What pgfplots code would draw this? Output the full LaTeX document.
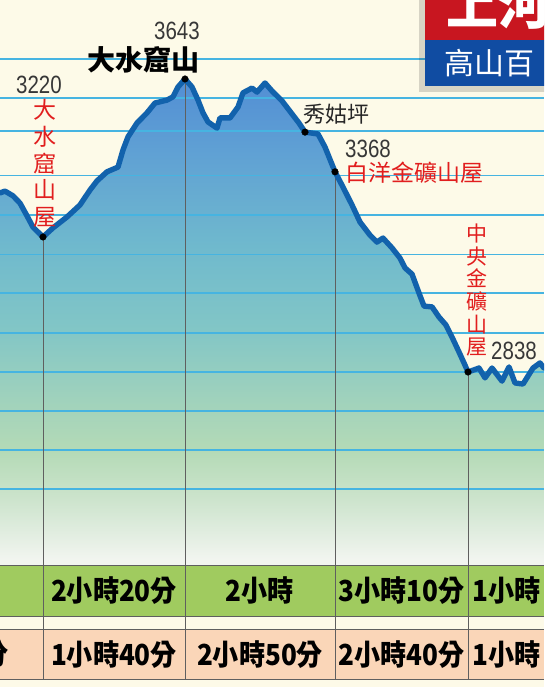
\documentclass[border=0pt]{standalone}
\usepackage{pgfplots}
\pgfplotsset{compat=1.18}
\usepackage{pgfplotstable}
\usepackage{fontspec}
\setmainfont{Liberation Sans}
\newfontfamily\cjk{Noto Sans CJK TC}
\newfontfamily\cjkc[FakeStretch=0.9]{Noto Sans CJK TC}
\newfontfamily\numf[FakeStretch=0.82]{Liberation Sans}

\definecolor{cream}{RGB}{253,250,232}
\definecolor{curveblue}{RGB}{18,98,172}
\definecolor{gridblue}{RGB}{70,180,225}
\definecolor{vgray}{RGB}{95,95,95}
\definecolor{redlab}{RGB}{225,30,30}
\definecolor{numgray}{RGB}{55,55,55}
\definecolor{rowgreen}{RGB}{160,203,95}
\definecolor{roworange}{RGB}{250,214,184}
\definecolor{hdrred}{RGB}{200,22,32}
\definecolor{hdrblue}{RGB}{16,76,162}
\definecolor{s0}{RGB}{242,245,240}
\definecolor{s1}{RGB}{205,228,205}
\definecolor{s2}{RGB}{180,218,182}
\definecolor{s3}{RGB}{160,210,188}
\definecolor{s4}{RGB}{130,198,198}
\definecolor{s5}{RGB}{112,186,205}
\definecolor{s6}{RGB}{95,160,212}
\definecolor{s7}{RGB}{82,142,212}

\pgfdeclareverticalshading{elev}{100bp}{color(0bp)=(s0); color(25bp)=(s0); color(25.5bp)=(s0); color(31.7bp)=(s1); color(36.8bp)=(s2); color(42bp)=(s3); color(49.2bp)=(s4); color(57.4bp)=(s5); color(67.7bp)=(s6); color(75bp)=(s7); color(100bp)=(s7)}

\pgfplotstableread{
x elev
0 3330
5 3335
13 3322
20 3302
27 3267
33 3236
43 3209
53 3234
67 3264
80 3297
90 3338
97 3363
107 3388
118 3401
123 3448
128 3484
137 3522
147 3550
155 3577
167 3585
173 3594
178 3621
185 3643
192 3621
198 3585
203 3550
208 3525
217 3508
220 3536
230 3536
238 3566
243 3605
252 3618
257 3607
265 3632
272 3610
282 3583
292 3547
299 3522
305 3497
318 3492
325 3456
335 3388
343 3346
352 3297
360 3250
370 3214
377 3195
383 3206
392 3179
400 3151
405 3124
412 3107
419 3055
424 3019
432 3017
439 2989
446 2967
452 2934
459 2893
464 2863
468 2838
479 2849
485 2822
492 2849
502 2813
509 2852
515 2808
523 2805
533 2849
540 2863
544 2849
}\profile

\pgfplotstableread{
x elev
0 3330
5 3335
13 3322
20 3302
27 3267
33 3236
43 3209
53 3234
67 3264
80 3297
90 3338
97 3363
107 3388
118 3401
123 3448
128 3484
137 3522
147 3550
155 3577
167 3585
173 3594
178 3621
185 3643
192 3621
198 3585
203 3550
208 3525
217 3508
220 3536
230 3536
238 3566
243 3605
252 3618
257 3607
265 3632
272 3610
282 3583
292 3547
299 3522
305 3497
318 3492
325 3456
335 3388
343 3346
352 3297
360 3250
370 3214
377 3195
383 3206
392 3179
400 3151
405 3124
412 3107
419 3055
424 3019
432 3017
439 2989
446 2967
452 2934
459 2893
464 2863
468 2838
479 2849
485 2822
492 2849
502 2813
509 2852
515 2808
523 2805
533 2849
540 2863
544 2849
544 2308
0 2308
}\profilefill

\begin{document}
\begin{tikzpicture}
\begin{axis}[
  width=544pt, height=687pt, scale only axis,
  xmin=0, xmax=544, ymin=1972.8, ymax=3860,
  axis lines=none, ticks=none, clip=true,
]
% background
\fill[cream] (axis cs:0,1972.8) rectangle (axis cs:544,3860);
% elevation fill
\addplot[draw=none, shade, shading=elev, forget plot] table[x=x, y=elev] {\profilefill};
% horizontal guide lines
\pgfplotsinvokeforeach{3698,3591,3377,3269,3160,3055,2838,2731,2624,2517}{
  \addplot[gridblue, line width=1.3pt, forget plot] coordinates {(0,#1) (544,#1)};
}
\pgfplotsinvokeforeach{3500,2945}{
  \addplot[gridblue, line width=2.1pt, forget plot] coordinates {(0,#1) (544,#1)};
}
% table rows
\fill[rowgreen] (axis cs:0,2308) rectangle (axis cs:544,2168);
\fill[roworange] (axis cs:0,2132) rectangle (axis cs:544,1995);
\pgfplotsinvokeforeach{2308,2168,2132,1995}{
  \addplot[vgray, line width=0.8pt, forget plot] coordinates {(0,#1) (544,#1)};
}
% vertical waypoint lines
\addplot[vgray, line width=0.9pt, forget plot] coordinates {(43,3209) (43,1995)};
\addplot[vgray, line width=0.9pt, forget plot] coordinates {(185,3643) (185,1995)};
\addplot[vgray, line width=0.9pt, forget plot] coordinates {(335,3388) (335,1995)};
\addplot[vgray, line width=0.9pt, forget plot] coordinates {(468,2838) (468,1995)};
% profile line
\addplot[curveblue, line width=5.4pt, line join=round, line cap=round, forget plot] table[x=x, y=elev] {\profile};
% waypoints
\addplot[only marks, mark=*, mark size=3.3pt, black, forget plot] coordinates {(43,3209) (185,3643) (305,3497) (335,3388) (468,2838)};

% header box
\fill[black, opacity=0.15] (axis cs:419,3870) rectangle (axis cs:548,3608);
\fill[hdrred] (axis cs:425,3875) rectangle (axis cs:548,3750);
\fill[hdrblue] (axis cs:425,3750) rectangle (axis cs:548,3624);
\node[anchor=west, text=white, inner sep=0, font=\cjk\bfseries\fontsize{52}{52}\selectfont] at (axis cs:446,3846) {上河};
\node[anchor=west, text=white, inner sep=0, font=\cjk\fontsize{30}{30}\selectfont] at (axis cs:444,3688) {高山百};

% labels
\node[text=numgray, inner sep=0, font=\numf\fontsize{25}{25}\selectfont] at (axis cs:177,3776) {3643};
\node[text=black, inner sep=0, font=\cjk\bfseries\fontsize{28}{28}\selectfont] at (axis cs:143,3695) {大水窟山};
\node[text=numgray, inner sep=0, font=\numf\fontsize{25}{25}\selectfont] at (axis cs:39,3628) {3220};
\node[text=redlab, inner sep=0, align=center, font=\cjk\fontsize{23}{26.6}\selectfont] at (axis cs:45,3411) {大\\水\\窟\\山\\屋};
\node[text=black!85, inner sep=0, font=\cjk\fontsize{22}{22}\selectfont] at (axis cs:336,3547) {秀姑坪};
\node[text=numgray, inner sep=0, font=\numf\fontsize{25}{25}\selectfont] at (axis cs:368,3452) {3368};
\node[text=redlab, inner sep=0, font=\cjk\fontsize{23}{23}\selectfont] at (axis cs:414,3385) {白洋金礦山屋};
\node[text=redlab, inner sep=0, align=center, font=\cjk\fontsize{21}{22.7}\selectfont] at (axis cs:477,3063) {中\\央\\金\\礦\\山\\屋};
\node[text=numgray, inner sep=0, font=\numf\fontsize{25}{25}\selectfont] at (axis cs:514,2896) {2838};

% table text
\node[inner sep=0, font=\cjkc\bfseries\fontsize{29}{29}\selectfont] at (axis cs:114,2238) {2小時20分};
\node[inner sep=0, font=\cjkc\bfseries\fontsize{29}{29}\selectfont] at (axis cs:260,2238) {2小時};
\node[inner sep=0, font=\cjkc\bfseries\fontsize{29}{29}\selectfont] at (axis cs:401.5,2238) {3小時10分};
\node[anchor=west, inner sep=0, font=\cjkc\bfseries\fontsize{29}{29}\selectfont] at (axis cs:472,2238) {1小時};
\node[anchor=east, inner sep=0, font=\cjkc\bfseries\fontsize{29}{29}\selectfont] at (axis cs:9,2063) {分};
\node[inner sep=0, font=\cjkc\bfseries\fontsize{29}{29}\selectfont] at (axis cs:114,2063) {1小時40分};
\node[inner sep=0, font=\cjkc\bfseries\fontsize{29}{29}\selectfont] at (axis cs:260,2063) {2小時50分};
\node[inner sep=0, font=\cjkc\bfseries\fontsize{29}{29}\selectfont] at (axis cs:401.5,2063) {2小時40分};
\node[anchor=west, inner sep=0, font=\cjkc\bfseries\fontsize{29}{29}\selectfont] at (axis cs:472,2063) {1小時};
\end{axis}
\pgfresetboundingbox
\useasboundingbox (current axis.south west) rectangle (current axis.north east);
\end{tikzpicture}
\end{document}
